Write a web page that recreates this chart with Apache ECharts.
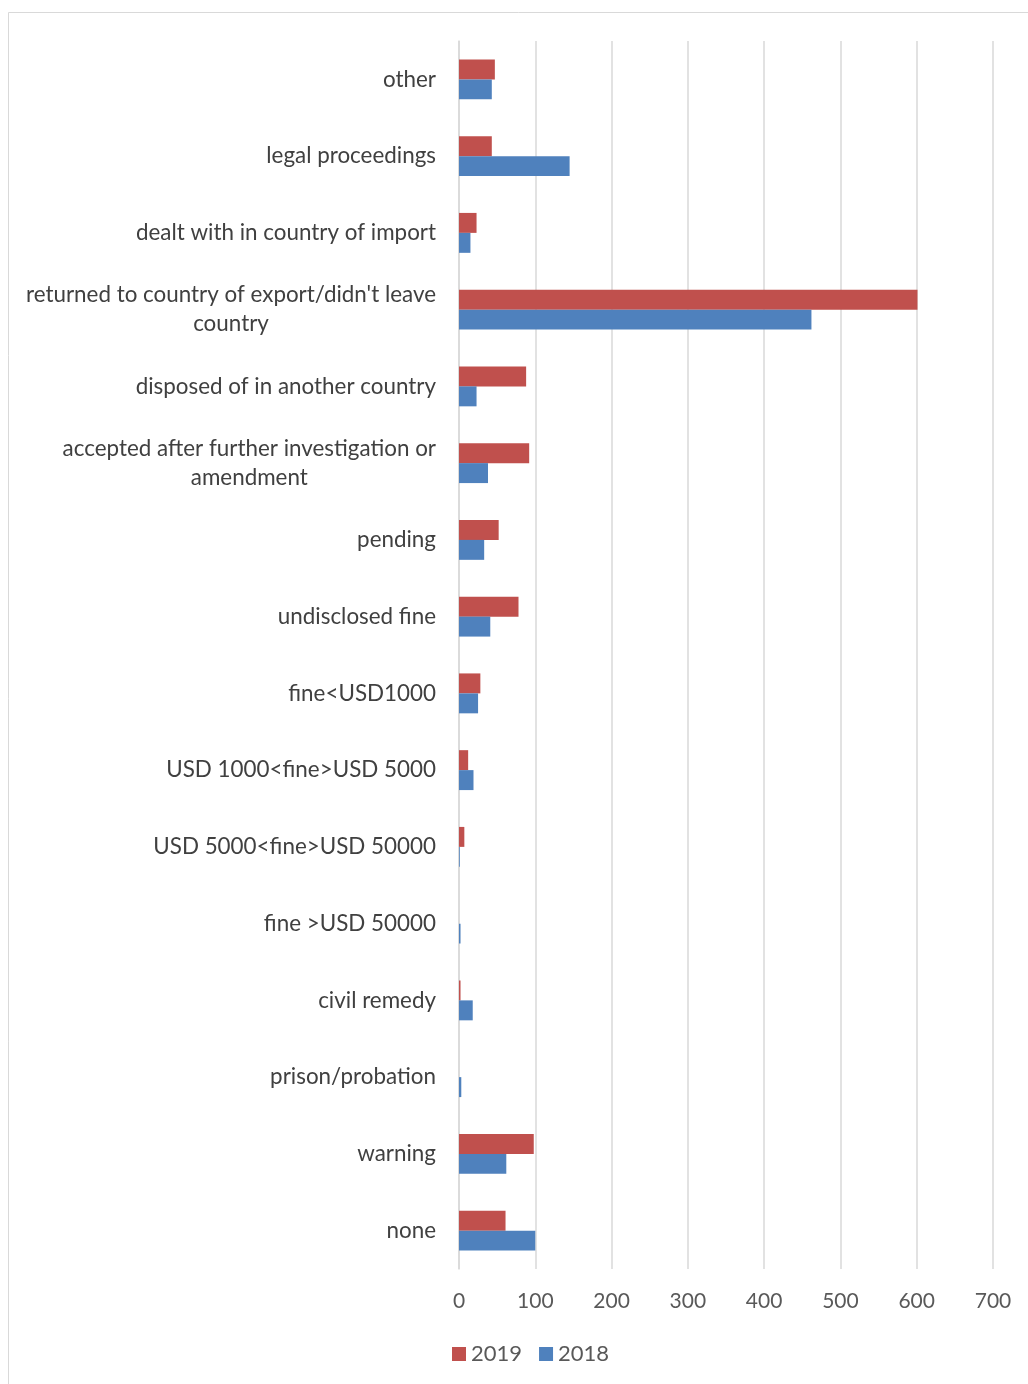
<!DOCTYPE html>
<html>
<head>
<meta charset="utf-8">
<script src="https://cdn.jsdelivr.net/npm/echarts@6/dist/echarts.min.js"></script>
<style>
  html, body { margin: 0; padding: 0; background: #fff; }
  #chart { width: 1028px; height: 1384px; }
</style>
</head>
<body>
<div id="chart"></div>
<script>
// Outcome categories, listed top to bottom
const categories = [
  'other',
  'legal proceedings',
  'dealt with in country of import',
  "returned to country of export/didn't leave\ncountry",
  'disposed of in another country',
  'accepted after further investigation or\namendment',
  'pending',
  'undisclosed fine',
  'fine<USD1000',
  'USD 1000<fine>USD 5000',
  'USD 5000<fine>USD 50000',
  'fine >USD 50000',
  'civil remedy',
  'prison/probation',
  'warning',
  'none'
];

const values2019 = [47, 43, 23, 601, 88, 92, 52, 78, 28, 12, 7, 0, 2, 0, 98, 61];
const values2018 = [43, 145, 15, 462, 23, 38, 33, 41, 25, 19, 1, 2, 18, 3, 62, 100];

const xTicks = { min: 0, max: 700, interval: 100 };

const FONT = 'Lato';
const LABEL_SIZE = 22.4;
const chart = echarts.init(document.getElementById('chart'));

chart.setOption({
  backgroundColor: '#ffffff',
  animation: false,
  graphic: [{
    type: 'rect',
    shape: { x: 8.5, y: 12.5, width: 1100, height: 1400 },
    style: { fill: 'none', stroke: '#d9d9d9', lineWidth: 1 },
    silent: true
  }],
  legend: {
    data: ['2019', '2018'],
    left: 447,
    top: 1338,
    itemWidth: 14,
    itemHeight: 14,
    itemGap: 17,
    icon: 'rect',
    textStyle: { fontFamily: FONT, fontSize: 22, color: '#595959', padding: [0, 0, 0, 0] }
  },
  grid: { left: 459, right: 35, top: 41, bottom: 115, containLabel: false },
  xAxis: {
    type: 'value',
    min: xTicks.min,
    max: xTicks.max,
    interval: xTicks.interval,
    axisLine: { show: false },
    axisTick: { show: false },
    splitLine: { lineStyle: { color: '#d9d9d9', width: 1.5 } },
    axisLabel: { fontFamily: FONT, fontSize: 21, color: '#595959', margin: 22 }
  },
  yAxis: {
    type: 'category',
    data: categories,
    inverse: true,
    axisTick: { show: false },
    axisLine: { show: true, lineStyle: { color: '#d9d9d9', width: 1.5 } },
    axisLabel: {
      fontFamily: FONT,
      fontSize: LABEL_SIZE,
      color: '#404040',
      margin: 23,
      lineHeight: 29,
      formatter: function (v) {
        return v.split('\n').map(function (l) { return '{c|' + l + '}'; }).join('\n');
      },
      rich: {
        c: { align: 'center', fontFamily: FONT, fontSize: LABEL_SIZE, color: '#404040', lineHeight: 29 }
      }
    }
  },
  series: [
    {
      name: '2019',
      type: 'bar',
      data: values2019,
      barGap: '0%',
      barCategoryGap: '48%',
      itemStyle: { color: '#C0504D' }
    },
    {
      name: '2018',
      type: 'bar',
      data: values2018,
      barGap: '0%',
      barCategoryGap: '48%',
      itemStyle: { color: '#4F81BD' }
    }
  ]
});
</script>
</body>
</html>
